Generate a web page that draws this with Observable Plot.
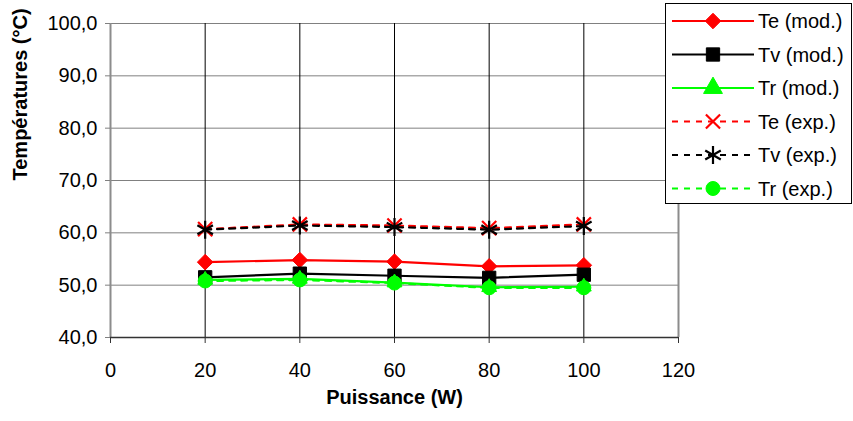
<!DOCTYPE html>
<html>
<head>
<meta charset="utf-8">
<script src="https://cdn.jsdelivr.net/npm/d3@7"></script>
<script src="https://cdn.jsdelivr.net/npm/@observablehq/plot@0.6"></script>
<style>
  html, body { margin: 0; padding: 0; background: white; }
  #wrap { position: relative; width: 853px; height: 421px; font-family: "Liberation Sans", Arial, sans-serif; }
  #legend { position: absolute; left: 665px; top: 3px; width: 187px; height: 201px; border: 1px solid #000; background: white; box-sizing: border-box; }
</style>
</head>
<body>
<div id="wrap"></div>
<script>
// ---- data ----
const power = [20, 40, 60, 80, 100];
const teMod = [54.4, 54.8, 54.5, 53.6, 53.8];
const tvMod = [51.5, 52.2, 51.8, 51.4, 52.0];
const trMod = [51.0, 51.2, 50.5, 49.6, 49.7];
const teExp = [60.7, 61.6, 61.4, 60.9, 61.6];
const tvExp = [60.6, 61.4, 61.1, 60.6, 61.3];
const trExp = [50.8, 51.0, 50.4, 49.5, 49.5];
const seriesNames = ["Te (mod.)", "Tv (mod.)", "Tr (mod.)", "Te (exp.)", "Tv (exp.)", "Tr (exp.)"];
const xTicks = [0, 20, 40, 60, 80, 100, 120];
const yTicks = [40, 50, 60, 70, 80, 90, 100];
const xLabel = "Puissance (W)";
const yLabel = "Températures (°C)";

// ---- styles ----
const seriesValues = [teMod, tvMod, trMod, teExp, tvExp, trExp];
const colors = ["#ff0000", "#000000", "#00ff00", "#ff0000", "#000000", "#00ff00"];
const symbols = ["diamond2", "square", "triangle", "times", "asterisk", "circle"];
const filled = [true, true, true, false, false, true];
const dashed = [false, false, false, true, true, true];
const radii = [7, 7.5, 5.5, 6.5, 8.5, 7];
const d3Symbols = {diamond2: d3.symbolDiamond2, square: d3.symbolSquare, triangle: d3.symbolTriangle,
  times: d3.symbolTimes, asterisk: d3.symbolAsterisk, circle: d3.symbolCircle};

const fmt = d => d.toFixed(1).replace(".", ",");

const marks = [
  Plot.ruleY(yTicks.filter(v => v > 40), {stroke: "#808080", strokeWidth: 1}),
  Plot.ruleX(xTicks.filter(v => v > 0 && v < 120), {stroke: "#000", strokeWidth: 1}),
  Plot.ruleX([0], {stroke: "#8c8c8c", strokeWidth: 2}),
  Plot.ruleX([120], {stroke: "#8c8c8c", strokeWidth: 2}),
  Plot.ruleY([40], {stroke: "#333", strokeWidth: 1.5}),
  Plot.axisX({ticks: xTicks, tickSize: 6, tickPadding: 19, stroke: "#333", fill: "#000", label: null, fontSize: 20}),
  Plot.axisY({ticks: yTicks, tickSize: 5, tickPadding: 8, stroke: "#808080", fill: "#000", tickFormat: fmt, label: null, fontSize: 20}),
  Plot.text([xLabel], {frameAnchor: "bottom", dy: 66, fontWeight: "bold", fontSize: 20, fill: "#000"}),
  Plot.text([yLabel], {frameAnchor: "left", dx: -90, rotate: -90, fontWeight: "bold", fontSize: 20, fill: "#000"})
];

seriesValues.forEach((vals, i) => {
  const rows = power.map((p, j) => ({x: p, y: vals[j]}));
  marks.push(Plot.line(rows, {x: "x", y: "y", stroke: colors[i], strokeWidth: 2.2,
    strokeDasharray: dashed[i] ? "6,6" : null}));
  marks.push(Plot.dot(rows, {x: "x", y: "y", symbol: symbols[i], r: radii[i],
    fill: filled[i] ? colors[i] : "none", stroke: colors[i], strokeWidth: filled[i] ? 1 : 2.2}));
});

const chart = Plot.plot({
  width: 853,
  height: 421,
  marginLeft: 110,
  marginRight: 175,
  marginTop: 23,
  marginBottom: 84,
  x: {domain: [0, 120]},
  y: {domain: [40, 100]},
  style: {fontFamily: "'Liberation Sans', Arial, sans-serif", fontSize: "20px", color: "#000", background: "white"},
  marks
});

const wrap = document.getElementById("wrap");
wrap.appendChild(chart);

// ---- legend ----
const legend = document.createElement("div");
legend.id = "legend";
wrap.appendChild(legend);
const svg = d3.select(legend).append("svg").attr("width", 185).attr("height", 199)
  .style("font-family", "'Liberation Sans', Arial, sans-serif");
seriesNames.forEach((name, i) => {
  const cy = 17 + i * 33.5;
  const g = svg.append("g").attr("transform", `translate(0,${cy})`);
  g.append("line").attr("x1", 6).attr("x2", 88).attr("y1", 0).attr("y2", 0)
    .attr("stroke", colors[i]).attr("stroke-width", 2.2)
    .attr("stroke-dasharray", dashed[i] ? "6,6" : null);
  const rr = symbols[i] === "triangle" ? 7 : radii[i];
  g.append("path").attr("transform", "translate(47,0)")
    .attr("d", d3.symbol(d3Symbols[symbols[i]], Math.PI * rr * rr)())
    .attr("fill", filled[i] ? colors[i] : "none").attr("stroke", colors[i])
    .attr("stroke-width", filled[i] ? 1 : 2.2);
  g.append("text").attr("x", 92).attr("y", 0).attr("dy", "0.35em")
    .attr("font-size", 20).attr("fill", "#000").text(name);
});
</script>
</body>
</html>
